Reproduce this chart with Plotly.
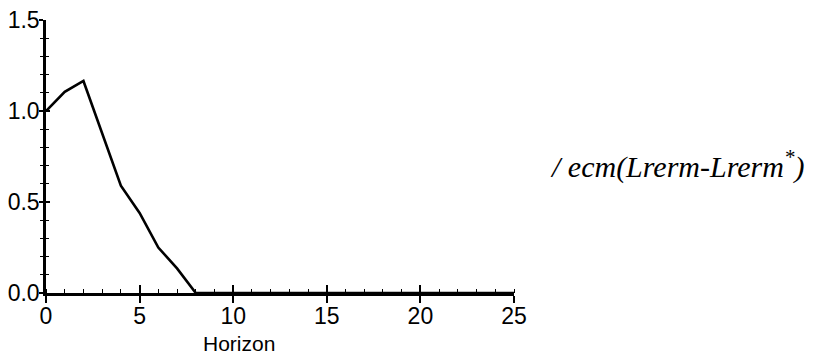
import plotly.graph_objects as go

horizon = list(range(0, 26))
response = [1.00, 1.105, 1.165, 0.88, 0.59, 0.44, 0.25, 0.135, 0.0] + [0.0] * 17
series_label = "/ ecm(Lrerm-Lrerm<sup>*</sup>)"
x_title = "Horizon"
x_ticks = [0, 5, 10, 15, 20, 25]
y_ticks = [0.0, 0.5, 1.0, 1.5]
y_tick_text = ["0.0", "0.5", "1.0", "1.5"]

fig = go.Figure()

fig.add_trace(go.Scatter(x=horizon, y=response, mode="lines",
                         line=dict(color="black", width=2.6),
                         showlegend=False, cliponaxis=False))
fig.add_trace(go.Scatter(x=[0], y=[0], xaxis="x2", yaxis="y2", mode="markers",
                         marker=dict(opacity=0), showlegend=False, hoverinfo="skip"))

tickfont = dict(family="Liberation Sans, Arial", size=23, color="black")

fig.update_layout(
    width=818, height=361,
    margin=dict(l=38, r=312, t=12, b=76),
    paper_bgcolor="white", plot_bgcolor="rgba(0,0,0,0)",
    xaxis=dict(range=[0, 25], tickvals=x_ticks, showgrid=False, zeroline=False,
               automargin=False, ticklabeloverflow="allow",
               showline=True, linecolor="black", linewidth=2.5,
               ticks="outside", ticklen=7, tickwidth=2, tickcolor="black",
               minor=dict(dtick=1, ticks="inside", ticklen=4, tickwidth=1.2, tickcolor="black"),
               tickfont=tickfont, ticklabelstandoff=-6),
    yaxis=dict(range=[0, 1.5], tickvals=y_ticks, ticktext=y_tick_text, showgrid=False,
               automargin=False, ticklabeloverflow="allow",
               zeroline=False, showline=True, linecolor="black", linewidth=2.5,
               ticks="outside", ticklen=4, tickwidth=2, tickcolor="black",
               minor=dict(dtick=0.1, ticks="outside", ticklen=3, tickwidth=1.2, tickcolor="black"),
               tickfont=tickfont, ticklabelstandoff=-5),
    xaxis2=dict(range=[0, 25], overlaying="x", anchor="y", tickvals=x_ticks,
                showticklabels=False, showgrid=False, zeroline=False, automargin=False,
                ticks="inside", ticklen=8, tickwidth=2, tickcolor="black", side="bottom"),
    yaxis2=dict(range=[0, 1.5], overlaying="y", anchor="x", tickvals=y_ticks,
                showticklabels=False, showgrid=False, zeroline=False, automargin=False,
                ticks="inside", ticklen=4, tickwidth=2, tickcolor="black",
                minor=dict(dtick=0.1, ticks="inside", ticklen=3, tickwidth=1.2, tickcolor="black")),
    annotations=[
        dict(text=series_label, xref="paper", yref="paper",
             x=1.072, y=0.47, xanchor="left", yanchor="middle", showarrow=False,
             font=dict(family="Liberation Serif, Times New Roman", size=30,
                       color="black", style="italic")),
        dict(text=x_title, xref="paper", yref="paper",
             x=0.412, y=-0.186, xanchor="center", yanchor="middle", showarrow=False,
             font=dict(family="Liberation Sans, Arial", size=21, color="black")),
    ],
)

fig.write_html("out.html")
